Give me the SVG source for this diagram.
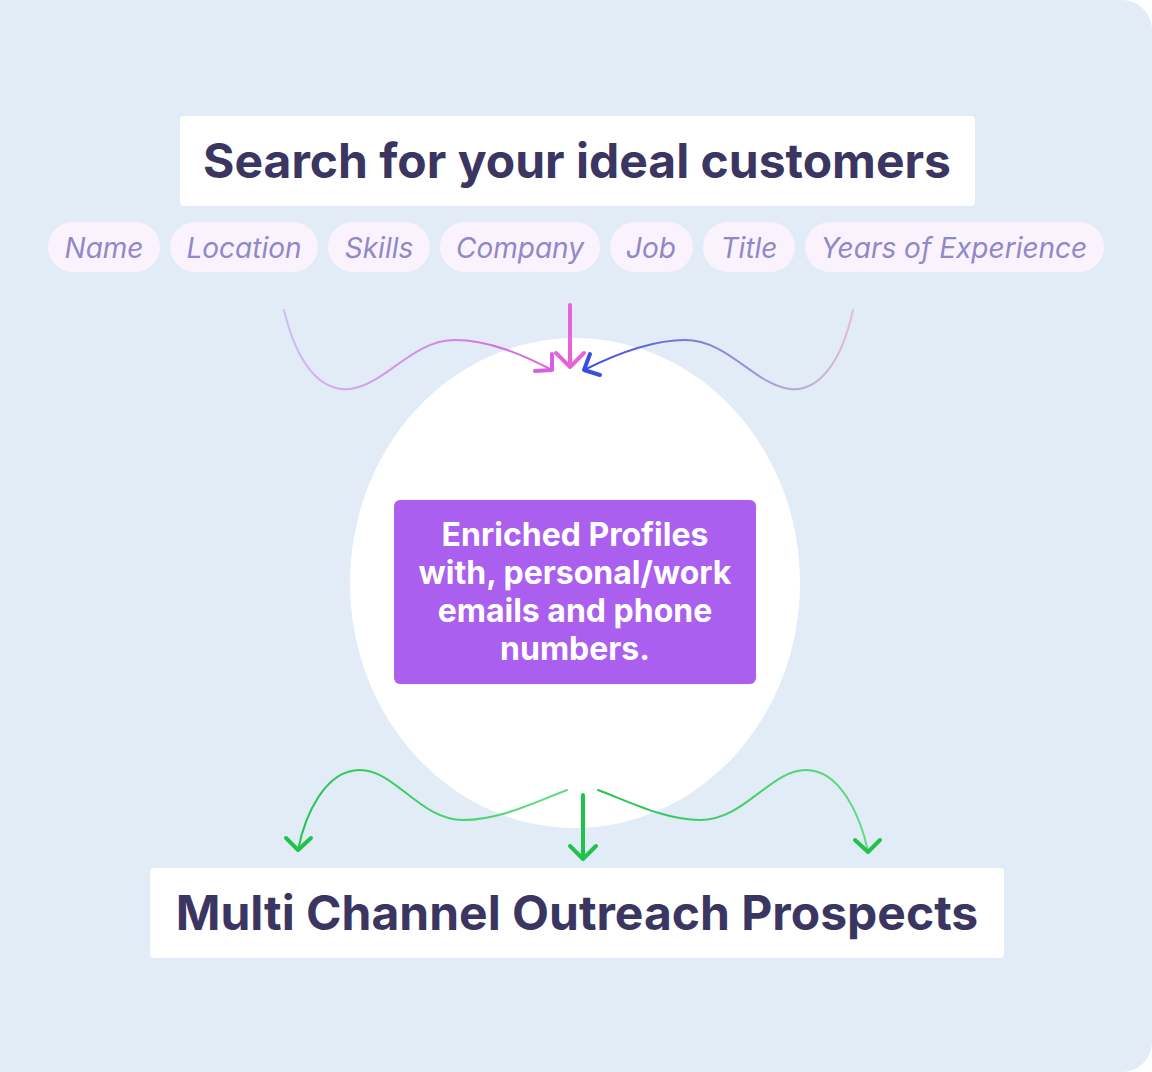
<svg xmlns="http://www.w3.org/2000/svg" width="1152" height="1072" viewBox="0 0 1152 1072">
<style>
.box{fill:#FFFFFF}
.title{font-family:Inter,"Noto Sans",sans-serif;font-weight:700;fill:#3B3561;text-anchor:middle}
.pill{fill:#FAF3FD}
.pt{font-family:Inter,"Noto Sans",sans-serif;font-style:italic;font-size:28px;fill:#9088C8;text-anchor:middle}
.ct{font-family:Inter,"Noto Sans",sans-serif;font-weight:700;font-size:32px;fill:#FFFFFF;text-anchor:middle}
.c{fill:none;stroke-width:2;stroke-linecap:round}
.a{fill:none;stroke-width:4;stroke-linecap:round;stroke-linejoin:round}
</style>
<defs>
<linearGradient id="gl" gradientUnits="userSpaceOnUse" x1="284" y1="0" x2="552" y2="0"><stop offset="0" stop-color="#CDBDF0"/><stop offset="1" stop-color="#D95FE0"/></linearGradient>
<linearGradient id="gr" gradientUnits="userSpaceOnUse" x1="853" y1="0" x2="584" y2="0"><stop offset="0" stop-color="#DEC0CC"/><stop offset="1" stop-color="#3A4DE3"/></linearGradient>
<linearGradient id="gg1" gradientUnits="userSpaceOnUse" x1="567" y1="0" x2="298" y2="0"><stop offset="0" stop-color="#5FDC80"/><stop offset="1" stop-color="#28C452"/></linearGradient>
<linearGradient id="gg2" gradientUnits="userSpaceOnUse" x1="598" y1="0" x2="868" y2="0"><stop offset="0" stop-color="#28C452"/><stop offset="1" stop-color="#5FDC80"/></linearGradient>
</defs>
<path d="M0,0 H1122 A30,30 0 0 1 1152,30 V1042 A30,30 0 0 1 1122,1072 H0 Z" fill="#E2ECF7"/>
<ellipse cx="575" cy="583" rx="225" ry="245" fill="#FFFFFF"/>
<g id="search">
<rect class="box" x="180" y="116" width="795" height="90" rx="4"/>
<text class="title" x="577" y="178" font-size="48">Search for your ideal customers</text>
</g>
<g id="pill-name"><rect class="pill" x="48" y="222" width="112" height="50" rx="25"/><text class="pt" x="104" y="258">Name</text></g>
<g id="pill-location"><rect class="pill" x="170" y="222" width="148" height="50" rx="25"/><text class="pt" x="244" y="258">Location</text></g>
<g id="pill-skills"><rect class="pill" x="328" y="222" width="102" height="50" rx="25"/><text class="pt" x="379" y="258">Skills</text></g>
<g id="pill-company"><rect class="pill" x="440" y="222" width="160" height="50" rx="25"/><text class="pt" x="520" y="258">Company</text></g>
<g id="pill-job"><rect class="pill" x="610" y="222" width="83" height="50" rx="25"/><text class="pt" x="651" y="258">Job</text></g>
<g id="pill-title"><rect class="pill" x="703" y="222" width="92" height="50" rx="25"/><text class="pt" x="749" y="258">Title</text></g>
<g id="pill-years"><rect class="pill" x="805" y="222" width="299" height="50" rx="25"/><text class="pt" x="954" y="258">Years of Experience</text></g>
<g id="enriched">
<rect x="394" y="500" width="362" height="184" rx="6" fill="#AB5FEF"/>
<text class="ct" x="575" y="546">Enriched Profiles</text>
<text class="ct" x="575" y="584">with, personal/work</text>
<text class="ct" x="575" y="622">emails and phone</text>
<text class="ct" x="575" y="660">numbers.</text>
</g>
<g id="outreach">
<rect class="box" x="150" y="868" width="854" height="90" rx="4"/>
<text class="title" x="577" y="930" font-size="48">Multi Channel Outreach Prospects</text>
</g>
<g id="connectors">
<path class="c" stroke="url(#gl)" d="M284,310 C296,360 318,392 350,389 C385,385 412,340 455,340 C490,340 525,356 552,370"/>
<path class="a" stroke="#D95FE0" d="M552,354 L552,370 L535,371"/>
<path class="a" stroke="#E963D8" d="M570,305 V367 M556,353 L570,367 L584,353"/>
<path class="c" stroke="url(#gr)" d="M853,310 C842,360 820,392 790,389 C755,385 728,340 685,340 C650,340 612,356 584,370"/>
<path class="a" stroke="#3A4DE3" d="M590,354 L584,370 L600,375"/>
<path class="c" stroke="url(#gg1)" d="M567,790 C535,802 500,820 463,820 C420,820 395,770 360,770 C325,770 305,815 298,850"/>
<path class="a" stroke="#1FC24A" d="M286,838 L298,850 L311,838"/>
<path class="a" stroke="#1FC24A" d="M583,795 V859 M570,846 L583,859 L596,846"/>
<path class="c" stroke="url(#gg2)" d="M598,790 C630,802 665,820 700,820 C745,820 770,770 806,770 C840,770 860,815 868,851"/>
<path class="a" stroke="#1FC24A" d="M855,840 L868,852 L880,840"/>
</g>
</svg>
